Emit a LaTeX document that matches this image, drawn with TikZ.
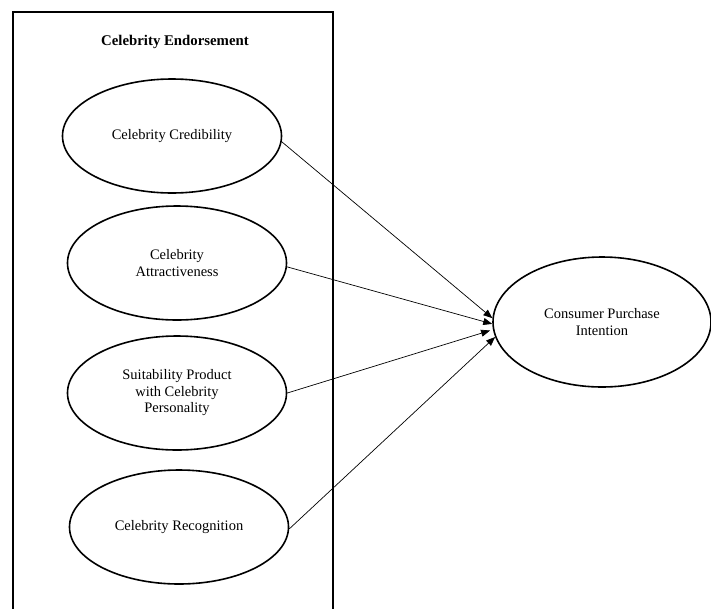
\documentclass[tikz,border=0pt]{standalone}
\usepackage{fontspec}
\setmainfont{Liberation Serif}
\usepackage{tikz}
\usetikzlibrary{arrows.meta}
\usetikzlibrary{shapes.geometric}
\tikzset{
	construct/.style={
		ellipse,draw,line width=1.6pt,
		inner sep=0pt,
		minimum width=219pt,minimum height=114pt,
		align=center,
		font=\fontsize{14.5}{16.5}\selectfont,
	},
	link/.style={-{Triangle[length=9pt,width=7pt]},line width=0.7pt},
}

\begin{document}
\begin{tikzpicture}[x=1pt,y=-1pt]
	\useasboundingbox (0,0) rectangle (711,608);
	\draw[line width=1.3pt] (13,620) |- (333,12) -- (333,620);
	\node[font=\bfseries\fontsize{14.8}{16.5}\selectfont] (endorsement) at (175,42) {Celebrity Endorsement};
	
	\node[construct] (credibility) at (172,136) {Celebrity Credibility};
	\node[construct] (attractive) at (177,263) {Celebrity\\Attractiveness};
	\node[construct] (suitability) at (177,393) {Suitability Product\\with Celebrity\\Personality};
	\node[construct] (recognition) at (179,527) {Celebrity Recognition};
	\node[construct,minimum width=218pt,minimum height=130pt] (intention) at (602,322) {Consumer Purchase\\Intention};
	
	\draw[link] (credibility.-3) -- (intention.178);
	\draw[link] (attractive.-2) -- (intention.181);
	\draw[link,shorten >=3pt] (suitability.east) -- (intention.184);
	\draw[link] (recognition.-1) -- (intention.188);
\end{tikzpicture}
\end{document}
